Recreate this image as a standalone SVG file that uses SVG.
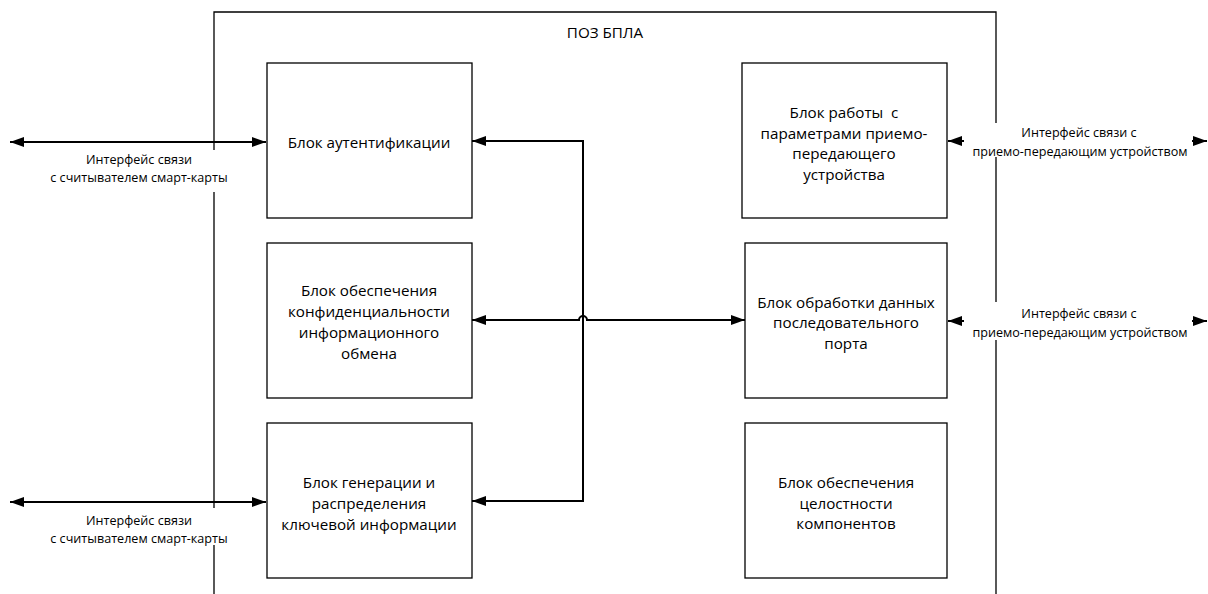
<svg xmlns="http://www.w3.org/2000/svg" width="1208" height="594" viewBox="0 0 1208 594">
<style>
.box{fill:#fff;stroke:#000;stroke-width:1.3}
.frame{fill:none;stroke:#000;stroke-width:1.3}
.conn{fill:none;stroke:#000;stroke-width:2}
.bt{font-family:"Open Sans","Noto Sans",sans-serif;font-size:15.2px;fill:#000;text-anchor:middle;dominant-baseline:central}
.lt{font-family:"Open Sans","Noto Sans",sans-serif;font-size:12.6px;fill:#000;text-anchor:middle;dominant-baseline:central}
</style>
<defs>
<marker id="ah" viewBox="0 0 14 10" refX="14" refY="5" markerWidth="14" markerHeight="10" markerUnits="userSpaceOnUse" orient="auto-start-reverse">
<path d="M0,0 L14,5 L0,10 z" fill="#000"/>
</marker>
</defs>
<rect width="1208" height="594" fill="#fff"/>
<g id="frame">
<path class="frame" d="M214,594 V12 H996 V594"/>
<text class="bt" x="605" y="32">ПОЗ БПЛА</text>
</g>
<g id="connectors">
<path class="conn" d="M10,142 H266" marker-start="url(#ah)" marker-end="url(#ah)"/>
<path class="conn" d="M10,502 H266" marker-start="url(#ah)" marker-end="url(#ah)"/>
<path class="conn" d="M948,141 H1207" marker-start="url(#ah)" marker-end="url(#ah)"/>
<path class="conn" d="M948,321 H1207" marker-start="url(#ah)" marker-end="url(#ah)"/>
<path class="conn" d="M472,141 H583 V501 H472" marker-start="url(#ah)" marker-end="url(#ah)"/>
<path class="conn" d="M472,320 H579 A4,4 0 0 1 587,320 H745" marker-start="url(#ah)" marker-end="url(#ah)"/>
</g>
<g id="label-left-top">
<rect x="205" y="150" width="18" height="42" fill="#fff"/>
<text class="lt" x="139" y="159">Интерфейс связи</text>
<text class="lt" x="139" y="177">с считывателем смарт-карты</text>
</g>
<g id="label-left-bottom">
<rect x="205" y="508" width="18" height="37" fill="#fff"/>
<text class="lt" x="139" y="520">Интерфейс связи</text>
<text class="lt" x="139" y="538">с считывателем смарт-карты</text>
</g>
<g id="label-right-top">
<rect x="964" y="123" width="228" height="34" fill="#fff"/>
<text class="lt" x="1079" y="132">Интерфейс связи с</text>
<text class="lt" x="1080" y="151">приемо-передающим устройством</text>
</g>
<g id="label-right-bottom">
<rect x="964" y="302" width="228" height="38" fill="#fff"/>
<text class="lt" x="1079" y="313">Интерфейс связи с</text>
<text class="lt" x="1080" y="332">приемо-передающим устройством</text>
</g>
<g id="auth">
<rect class="box" x="267" y="63" width="205" height="155"/>
<text class="bt" x="369" y="142">Блок аутентификации</text>
</g>
<g id="conf">
<rect class="box" x="267" y="243" width="205" height="155"/>
<text class="bt" x="369" y="290">Блок обеспечения</text>
<text class="bt" x="369" y="311">конфиденциальности</text>
<text class="bt" x="369" y="332">информационного</text>
<text class="bt" x="369" y="353">обмена</text>
</g>
<g id="keygen">
<rect class="box" x="267" y="423" width="205" height="155"/>
<text class="bt" x="369" y="482">Блок генерации и</text>
<text class="bt" x="369" y="503">распределения</text>
<text class="bt" x="369" y="524">ключевой информации</text>
</g>
<g id="transceiver">
<rect class="box" x="742" y="63" width="205" height="155"/>
<text class="bt" x="844" y="112">Блок работы&#160; с</text>
<text class="bt" x="844" y="133">параметрами приемо-</text>
<text class="bt" x="844" y="153">передающего</text>
<text class="bt" x="844" y="174">устройства</text>
</g>
<g id="serial">
<rect class="box" x="745" y="243" width="202" height="155"/>
<text class="bt" x="846" y="302">Блок обработки данных</text>
<text class="bt" x="846" y="322">последовательного</text>
<text class="bt" x="846" y="343">порта</text>
</g>
<g id="integrity">
<rect class="box" x="745" y="423" width="202" height="155"/>
<text class="bt" x="846" y="482">Блок обеспечения</text>
<text class="bt" x="846" y="503">целостности</text>
<text class="bt" x="846" y="523">компонентов</text>
</g>
</svg>
